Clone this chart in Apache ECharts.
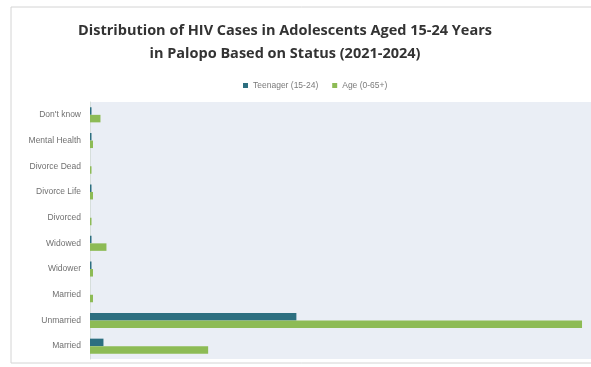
<!DOCTYPE html>
<html>
<head>
<meta charset="utf-8">
<script src="https://cdn.jsdelivr.net/npm/echarts@6/dist/echarts.min.js"></script>
<style>
  html, body { margin: 0; padding: 0; background: #ffffff; }
  #chart { width: 591px; height: 367px; }
</style>
</head>
<body>
<div id="chart"></div>
<script>
// Marital / status categories, listed bottom to top along the category axis
const categories = ['Married', 'Unmarried', 'Married', 'Widower', 'Widowed', 'Divorced',
  'Divorce Life', 'Divorce Dead', 'Mental Health', "Don't know"];

// Case counts per status
const teenager = [9, 138, 0, 1, 1, 0, 1, 0, 1, 1];
const allAges = [79, 329, 2, 2, 11, 1, 2, 1, 2, 7];

const seriesNames = ['Teenager (15-24)', 'Age (0-65+)'];

const chart = echarts.init(document.getElementById('chart'));
chart.setOption({
  animation: false,
  title: {
    text: 'Distribution of HIV Cases in Adolescents Aged 15-24 Years\nin Palopo Based on Status (2021-2024)',
    left: 280,
    textAlign: 'center',
    top: 14,
    textStyle: {
      fontFamily: 'Open Sans',
      fontWeight: 'bold',
      fontSize: 14.5,
      lineHeight: 23,
      color: '#333333'
    }
  },
  legend: {
    data: seriesNames,
    left: 238,
    top: 76,
    itemWidth: 5,
    itemHeight: 5,
    itemGap: 14,
    icon: 'rect',
    textStyle: { fontSize: 8.5, color: '#7a7a7a', fontFamily: 'Liberation Sans' }
  },
  graphic: [{
    type: 'rect',
    shape: { x: 11, y: 7, width: 600, height: 356 },
    style: { fill: 'none', stroke: '#d4d4d4', lineWidth: 1 },
    z: -1
  }],
  grid: {
    left: 90,
    top: 102,
    right: 0,
    bottom: 8,
    show: true,
    backgroundColor: '#eaeef5',
    borderWidth: 0
  },
  xAxis: {
    type: 'value',
    min: 0,
    max: 335,
    show: false
  },
  yAxis: {
    type: 'category',
    data: categories,
    axisLine: { show: true, lineStyle: { color: '#d6dedb', width: 1 } },
    axisTick: { show: false },
    axisLabel: {
      fontSize: 8.5,
      color: '#707070',
      fontFamily: 'Liberation Sans',
      margin: 9
    }
  },
  series: [
    {
      name: seriesNames[0],
      type: 'bar',
      data: teenager,
      barWidth: 7.5,
      barGap: '0%',
      itemStyle: { color: '#2d6f80' }
    },
    {
      name: seriesNames[1],
      type: 'bar',
      data: allAges,
      barWidth: 7.5,
      barGap: '0%',
      itemStyle: { color: '#8dbb55' }
    }
  ]
});
</script>
</body>
</html>
